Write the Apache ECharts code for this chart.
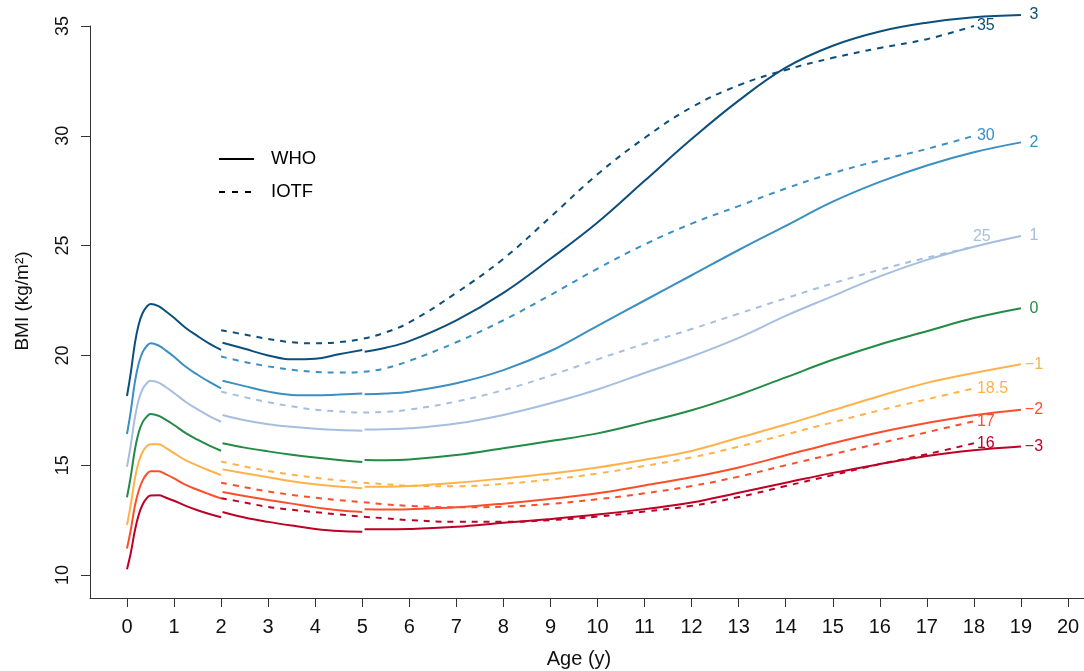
<!DOCTYPE html>
<html><head><meta charset="utf-8">
<script src="https://cdn.jsdelivr.net/npm/echarts@6/dist/echarts.min.js"></script>
<style>html,body{margin:0;padding:0;background:#fff}#c{width:1084px;height:671px}</style>
</head><body><div id="c"></div>
<script>
// ---- ages ----
const AGE_INF = [0,0.08,0.17,0.25,0.33,0.42,0.5,0.67,0.83,1,1.25,1.5,1.75,2];
const AGE_PRE = [2.03,2.5,3,3.5,4,4.5,5];
const AGE_SCH = [5.05,5.5,6,7,8,9,10,11,12,13,14,15,16,17,18,19];
const AGE_IOTF = [2,2.5,3,3.5,4,4.5,5,5.5,6,7,8,9,10,11,12,13,14,15,16,17,18];

// ---- WHO z-score curves: 0-2 y ----
const WHO_INF_P3 = [18.15,19.2,20.58,21.42,21.92,22.22,22.34,22.24,22.0,21.71,21.25,20.88,20.54,20.25];
const WHO_INF_P2 = [16.42,17.45,18.82,19.64,20.14,20.43,20.55,20.45,20.22,19.94,19.48,19.12,18.79,18.5];
const WHO_INF_P1 = [14.93,15.91,17.2,17.99,18.46,18.73,18.85,18.76,18.55,18.29,17.88,17.54,17.24,16.98];
const WHO_INF_Z0 = [13.54,14.49,15.74,16.5,16.95,17.21,17.33,17.25,17.06,16.83,16.46,16.16,15.89,15.66];
const WHO_INF_M1 = [12.28,13.2,14.42,15.16,15.6,15.86,15.95,15.95,15.78,15.55,15.22,14.98,14.76,14.55];
const WHO_INF_M2 = [11.21,12.05,13.17,13.85,14.3,14.6,14.72,14.72,14.58,14.4,14.1,13.88,13.68,13.49];
const WHO_INF_M3 = [10.26,11.0,12.05,12.75,13.2,13.5,13.62,13.63,13.52,13.38,13.15,12.95,12.78,12.63];

// ---- WHO: 2-5 y ----
const WHO_PRE_P3 = [20.58,20.3,20.0,19.82,19.85,20.05,20.25];
const WHO_PRE_P2 = [18.85,18.6,18.35,18.2,18.18,18.22,18.27];
const WHO_PRE_P1 = [17.29,17.05,16.87,16.75,16.66,16.6,16.57];
const WHO_PRE_Z0 = [16.0,15.8,15.63,15.48,15.35,15.24,15.15];
const WHO_PRE_M1 = [14.81,14.63,14.45,14.27,14.13,14.03,13.95];
const WHO_PRE_M2 = [13.78,13.6,13.42,13.25,13.08,12.95,12.87];
const WHO_PRE_M3 = [12.87,12.62,12.42,12.25,12.1,12.0,11.97];

// ---- WHO: 5-19 y ----
const WHO_SCH_P3 = [20.17,20.35,20.65,21.6,22.85,24.4,26.05,27.95,29.85,31.6,33.1,34.1,34.75,35.15,35.4,35.5];
const WHO_SCH_P2 = [18.23,18.26,18.35,18.73,19.33,20.2,21.35,22.5,23.65,24.8,25.9,27.0,27.9,28.65,29.25,29.7];
const WHO_SCH_P1 = [16.63,16.64,16.68,16.9,17.29,17.82,18.45,19.2,19.95,20.8,21.8,22.7,23.6,24.35,24.95,25.44];
const WHO_SCH_Z0 = [15.24,15.23,15.26,15.46,15.77,16.1,16.45,16.95,17.5,18.2,19.0,19.8,20.5,21.1,21.7,22.15];
const WHO_SCH_M1 = [14.02,14.02,14.05,14.2,14.4,14.62,14.9,15.25,15.65,16.25,16.85,17.5,18.15,18.75,19.2,19.6];
const WHO_SCH_M2 = [12.99,12.98,13.0,13.08,13.25,13.47,13.72,14.08,14.45,14.9,15.45,16.0,16.5,16.92,17.28,17.53];
const WHO_SCH_M3 = [12.08,12.08,12.1,12.2,12.38,12.55,12.75,13.0,13.3,13.75,14.2,14.65,15.05,15.42,15.68,15.85];

// ---- IOTF cut-offs: 2-18 y ----
const IOTF_35  = [21.15,20.95,20.75,20.6,20.55,20.6,20.75,21.05,21.5,22.85,24.4,26.3,28.25,29.9,31.3,32.3,33.0,33.55,34.0,34.4,35.0];
const IOTF_30  = [19.95,19.7,19.5,19.35,19.25,19.22,19.25,19.42,19.75,20.6,21.6,22.75,23.95,25.05,26.0,26.8,27.6,28.3,28.88,29.4,30.0];
const IOTF_25  = [18.35,18.1,17.87,17.68,17.53,17.45,17.4,17.43,17.53,17.9,18.42,19.08,19.82,20.53,21.2,21.9,22.6,23.28,23.9,24.45,24.95];
const IOTF_185 = [15.17,14.94,14.74,14.57,14.43,14.31,14.21,14.13,14.07,14.04,14.15,14.35,14.62,14.97,15.35,15.85,16.4,16.95,17.5,18.0,18.5];
const IOTF_17  = [14.2,14.0,13.8,13.65,13.52,13.41,13.32,13.22,13.15,13.08,13.11,13.24,13.45,13.72,14.05,14.48,15.0,15.5,16.0,16.5,17.0];
const IOTF_16  = [13.5,13.3,13.1,12.97,12.86,12.76,12.66,12.58,12.5,12.42,12.42,12.5,12.66,12.89,13.15,13.55,14.05,14.55,15.05,15.5,16.0];

// ---- labels / ticks ----
const WHO_LABELS = ['3','2','1','0','\u22121','\u22122','\u22123'];
const IOTF_LABELS = ['35','30','25','18.5','17','16'];
const X_TICKS = [0,1,2,3,4,5,6,7,8,9,10,11,12,13,14,15,16,17,18,19,20];
const Y_TICKS = [10,15,20,25,30,35];

const COLORS = ['#0c4f7c','#3a8fc3','#a6bedf','#238b45','#feb24c','#fc4e2a','#bd0026'];
const IOTF_COLORS = [COLORS[0],COLORS[1],COLORS[2],COLORS[4],COLORS[5],COLORS[6]];

const WHO_INF = [WHO_INF_P3,WHO_INF_P2,WHO_INF_P1,WHO_INF_Z0,WHO_INF_M1,WHO_INF_M2,WHO_INF_M3];
const WHO_PRE = [WHO_PRE_P3,WHO_PRE_P2,WHO_PRE_P1,WHO_PRE_Z0,WHO_PRE_M1,WHO_PRE_M2,WHO_PRE_M3];
const WHO_SCH = [WHO_SCH_P3,WHO_SCH_P2,WHO_SCH_P1,WHO_SCH_Z0,WHO_SCH_M1,WHO_SCH_M2,WHO_SCH_M3];
const IOTF = [IOTF_35,IOTF_30,IOTF_25,IOTF_185,IOTF_17,IOTF_16];

const zip = (xs, ys) => xs.map((x, i) => [x, ys[i]]);
const FONT = 'Liberation Sans, Arial, Helvetica, sans-serif';
const NARROW = 'Liberation Sans Narrow, Arial Narrow, Liberation Sans, sans-serif';

const series = [];
function baseLine(name, data, color, dashed) {
  return {
    type: 'line', name: name, data: data, showSymbol: false, symbol: 'none',
    smooth: 0.4, clip: false, silent: true,
    lineStyle: { color: color, width: 2, type: dashed ? [6, 6] : 'solid', cap: 'butt' },
    z: dashed ? 3 : 2
  };
}
for (let k = 0; k < 7; k++) {
  series.push(baseLine('WHO' + k + 'a', zip(AGE_INF, WHO_INF[k]), COLORS[k], false));
  series.push(baseLine('WHO' + k + 'b', zip(AGE_PRE, WHO_PRE[k]), COLORS[k], false));
  const s = baseLine('WHO' + k + 'c', zip(AGE_SCH, WHO_SCH[k]), COLORS[k], false);
  s.endLabel = { show: true, formatter: WHO_LABELS[k], color: COLORS[k], fontSize: 16,
                 fontFamily: FONT, distance: 13, align: 'center', verticalAlign: 'middle' };
  series.push(s);
}
for (let k = 0; k < 6; k++) {
  const s = baseLine('IOTF' + k, zip(AGE_IOTF, IOTF[k]), IOTF_COLORS[k], true);
  s.endLabel = { show: true, formatter: IOTF_LABELS[k], color: IOTF_COLORS[k], fontSize: 16,
                 fontFamily: FONT, distance: 3, align: 'left', verticalAlign: 'middle',
                 offset: k === 2 ? [-4, -10] : [0, 0] };
  series.push(s);
}

const chart = echarts.init(document.getElementById('c'), null, { renderer: 'canvas' });
chart.setOption({
  animation: false,
  backgroundColor: '#ffffff',
  grid: { left: 90, right: 0, top: 26, bottom: 73, containLabel: false },
  xAxis: {
    type: 'value', min: -0.7864, max: 20.34,
    axisLine: { show: true, onZero: false, lineStyle: { color: '#333', width: 1 } },
    axisTick: { show: true, length: 9, customValues: X_TICKS, lineStyle: { color: '#333', width: 1 } },
    axisLabel: { customValues: X_TICKS, margin: 19, fontSize: 20, fontFamily: NARROW, color: '#111' },
    splitLine: { show: false }
  },
  yAxis: {
    type: 'value', min: 8.953, max: 35,
    axisLine: { show: true, onZero: false, lineStyle: { color: '#333', width: 1 } },
    axisTick: { show: true, length: 9, customValues: Y_TICKS, lineStyle: { color: '#333', width: 1 } },
    axisLabel: { customValues: Y_TICKS, rotate: 90, margin: 18, fontSize: 18, fontFamily: FONT, color: '#111' },
    splitLine: { show: false }
  },
  graphic: [
    { type: 'line', shape: { x1: 219, y1: 159, x2: 254, y2: 159 }, style: { stroke: '#000', lineWidth: 2 } },
    { type: 'line', shape: { x1: 219, y1: 192, x2: 254, y2: 192 }, style: { stroke: '#000', lineWidth: 2, lineDash: [6, 7] } },
    { type: 'text', x: 271, y: 159, style: { text: 'WHO', fontSize: 18.5, fontFamily: FONT, fill: '#000', textVerticalAlign: 'middle' } },
    { type: 'text', x: 271, y: 192, style: { text: 'IOTF', fontSize: 18.5, fontFamily: FONT, fill: '#000', textVerticalAlign: 'middle' } },
    { type: 'text', x: 579, y: 659, style: { text: 'Age (y)', fontSize: 20, fontFamily: NARROW, fill: '#111', textAlign: 'center', textVerticalAlign: 'middle' } },
    { type: 'text', x: 23, y: 301, rotation: Math.PI / 2, style: { text: 'BMI (kg/m\u00B2)', fontSize: 19, fontFamily: FONT, fill: '#111', textAlign: 'center', textVerticalAlign: 'middle' } }
  ],
  series: series
});
</script></body></html>
